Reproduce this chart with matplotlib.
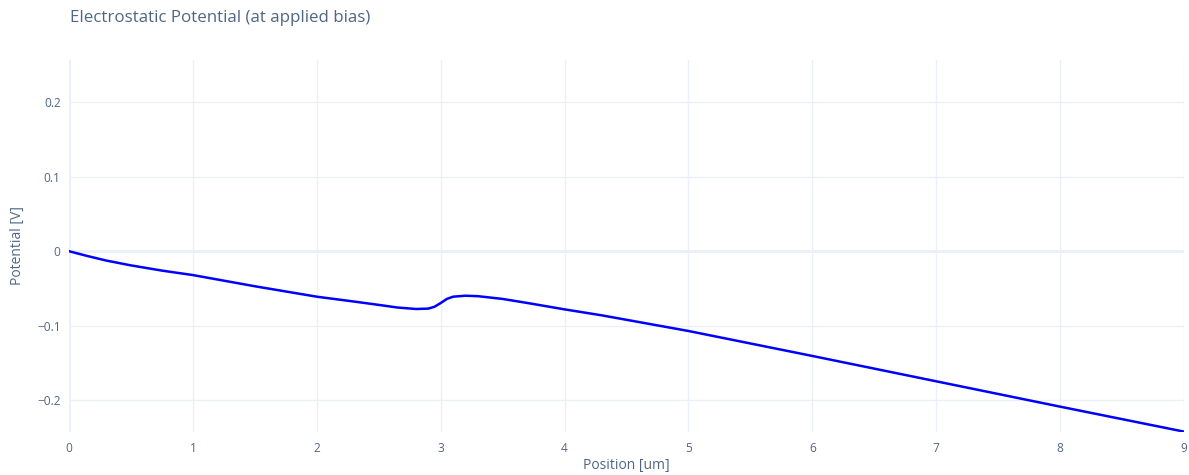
import matplotlib
matplotlib.use("Agg")
import matplotlib.pyplot as plt

# potential profile
position_um = [0.0, 0.15, 0.3, 0.5, 0.75, 1.0, 1.5, 2.0, 2.3, 2.5, 2.65, 2.8, 2.9,
               2.95, 3.0, 3.05, 3.1, 3.2, 3.3, 3.5, 3.72, 4.0, 4.3, 5.0, 6.0, 7.0, 8.0, 9.0]
potential_v = [0.0, -0.0065, -0.0125, -0.019, -0.026, -0.032, -0.047, -0.061, -0.0675,
               -0.0720, -0.0755, -0.0775, -0.0770, -0.0745, -0.0695, -0.0640, -0.0610,
               -0.0597, -0.0603, -0.0640, -0.0700, -0.0780, -0.0860, -0.1070, -0.1405,
               -0.1745, -0.2085, -0.2420]

x_ticks = [0, 1, 2, 3, 4, 5, 6, 7, 8, 9]
y_ticks = [-0.2, -0.1, 0, 0.1, 0.2]
y_tick_labels = ["\u22120.2", "\u22120.1", "0", "0.1", "0.2"]

plt.rcParams["font.family"] = ["Open Sans", "DejaVu Sans"]
text_col = "#506784"
tick_col = "#506784"
grid_col = "#EBF0F8"

fig = plt.figure(figsize=(11.89, 4.75), dpi=100)
ax = fig.add_axes([69 / 1189, 1 - 432 / 475, (1184 - 69) / 1189, (432 - 60) / 475])

ax.plot(position_um, potential_v, color="blue", lw=1.8, zorder=3, solid_capstyle="round")

ax.set_xlim(0, 9)
ax.set_ylim(-0.2425, 0.2565)
ax.set_xticks(x_ticks)
ax.set_yticks(y_ticks)
ax.set_yticklabels(y_tick_labels)
ax.grid(True, color=grid_col, lw=1, zorder=0)
ax.axhline(0, color=grid_col, lw=2, zorder=1)
ax.axvline(0, color=grid_col, lw=2, zorder=1)
for s in ax.spines.values():
    s.set_visible(False)
ax.tick_params(length=0, labelsize=8.6, colors=tick_col, pad=7)
ax.tick_params(axis="y", pad=6)

ax.set_xlabel("Position [um]", fontsize=10, color=text_col, va="center")
ax.set_ylabel("Potential [V]", fontsize=10, color=text_col, va="center")
ax.xaxis.set_label_coords(0.5, -(465 - 432) / 372)
ax.yaxis.set_label_coords(-(69 - 18) / 1115, 0.5)

fig.text(70 / 1189, 1 - 18 / 475, "Electrostatic Potential (at applied bias)",
         fontsize=12.2, color=text_col, ha="left", va="center")

fig.savefig("out.png", dpi=100)
